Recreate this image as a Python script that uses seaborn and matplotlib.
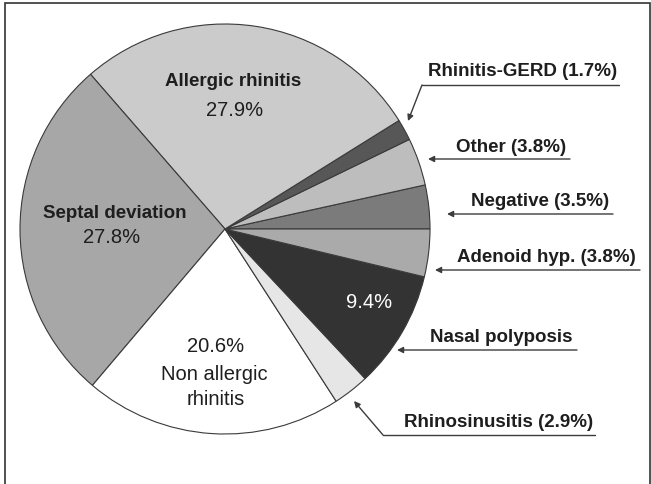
import numpy as np
import matplotlib.pyplot as plt
import matplotlib.patches as mpatches
import seaborn as sns

sns.set_theme(style="white")
plt.rcParams['font.family'] = ['Liberation Sans', 'DejaVu Sans']

## Data (counter-clockwise from 3 o'clock)
categories = ['Negative', 'Other', 'Rhinitis-GERD', 'Allergic rhinitis', 'Septal deviation',
              'Non allergic rhinitis', 'Rhinosinusitis', 'Nasal polyposis', 'Adenoid hyp.']
percents = [3.5, 3.8, 1.7, 27.9, 27.8, 20.6, 2.9, 9.4, 3.8]
colors = ['#7b7b7b', '#bdbdbd', '#575757', '#cbcbcb', '#a7a7a7',
          '#ffffff', '#e6e6e6', '#333333', '#aaaaaa']

W, H = 651, 485
fig = plt.figure(figsize=(W / 100, H / 100), dpi=100)
ax = fig.add_axes([0, 0, 1, 1])

def Y(y):
    # picture rows run top-down
    return H - y

ax.pie(percents, colors=colors, startangle=0, counterclock=True,
       center=(225, Y(230)), radius=205, frame=True,
       wedgeprops=dict(edgecolor='#3a3a3a', linewidth=0.8))
ax.set_xlim(0, W)
ax.set_ylim(0, H)
ax.axis('off')

txt = '#1e1e1e'
bold = dict(fontsize=13.5, fontweight='bold', color=txt, ha='center', va='center')
reg = dict(fontsize=14.5, color=txt, ha='center', va='center')

# labels inside the pie
ax.text(233, Y(82), 'Allergic rhinitis', **bold)
ax.text(235, Y(110), f'{percents[3]}%', **reg)
ax.text(115, Y(213), 'Septal deviation', **bold)
ax.text(112, Y(238), f'{percents[4]}%', **reg)
ax.text(216, Y(346), f'{percents[5]}%', **reg)
ax.text(214, Y(375), 'Non allergic', **reg)
ax.text(216, Y(400), 'rhinitis', **reg)
ax.text(369, Y(303), f'{percents[7]}%', fontsize=14.5, color='white', ha='center', va='center')

lc = '#3c3c3c'
arrow = dict(arrowstyle='-|>', color=lc, lw=1.0, mutation_scale=9, shrinkA=0, shrinkB=0)

# straight callouts: (label, text y, line y, arrow tip x, line end x)
straight = [
    (f'Other ({percents[1]}%)', 147, 160, 428, 570),
    (f'Negative ({percents[0]}%)', 202, 215, 447, 613),
    (f'Adenoid hyp. ({percents[8]}%)', 257, 271, 435, 640),
    ('Nasal polyposis', 337, 351, 397, 577),
]
for label, ty, ly, tip, end in straight:
    ax.annotate('', xy=(tip, Y(ly)), xytext=(end, Y(ly)), arrowprops=arrow)
    ax.text(end - 4, Y(ty), label, fontsize=13.5, fontweight='bold', color=txt,
            ha='right', va='center')

# bent callouts: (label, text y, line y, line start x, line end x, tip x, tip y)
bent = [
    (f'Rhinitis-GERD ({percents[2]}%)', 72, 86, 422, 619, 408, 122),
    (f'Rhinosinusitis ({percents[6]}%)', 423, 436, 383, 595, 354, 402),
]
for label, ty, ly, x0, x1, tx, tyy in bent:
    ax.plot([x0, x1], [Y(ly), Y(ly)], color=lc, lw=1.0)
    ax.annotate('', xy=(tx, Y(tyy)), xytext=(x0, Y(ly)), arrowprops=arrow)
    ax.text(x1 - 2, Y(ty), label, fontsize=13.5, fontweight='bold', color=txt,
            ha='right', va='center')

# outer frame
ax.add_patch(mpatches.Rectangle((5, -5), 645, Y(4) + 5, fill=False,
                                edgecolor='#333333', lw=1.2))

fig.savefig('out.png', dpi=100)
